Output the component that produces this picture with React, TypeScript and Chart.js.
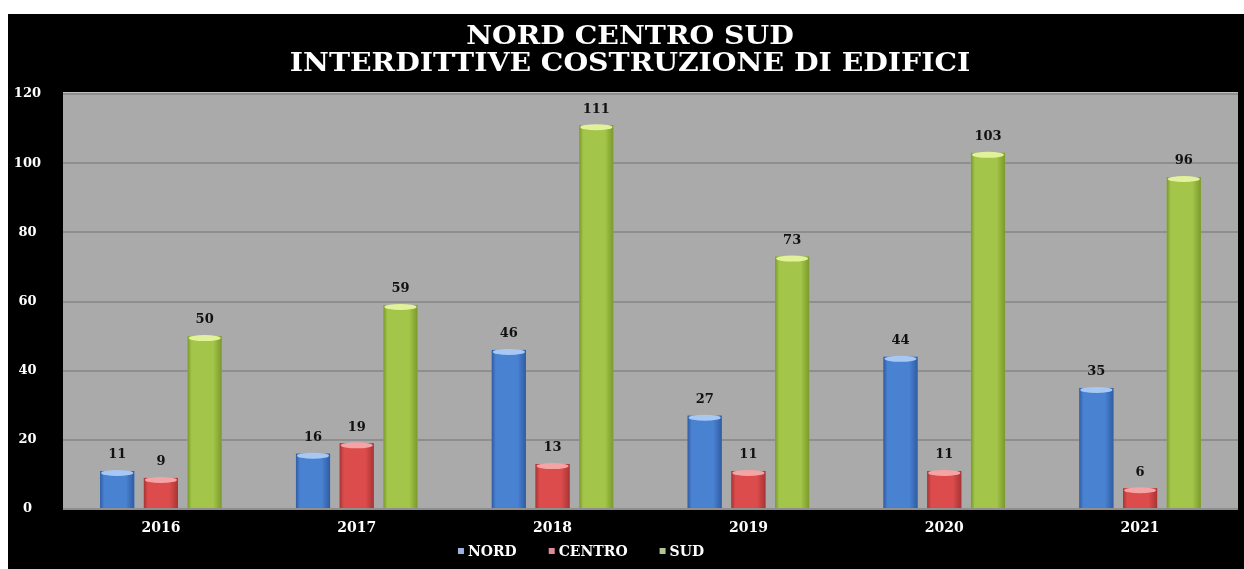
import React, { useEffect, useRef } from 'react';
import { Chart, registerables } from 'chart.js';

Chart.register(...registerables);

// ---- data ----
const categories = ['2016', '2017', '2018', '2019', '2020', '2021'];
const nordValues = [11, 16, 46, 27, 44, 35];
const centroValues = [9, 19, 13, 11, 11, 6];
const sudValues = [50, 59, 111, 73, 103, 96];
const seriesNames = ['NORD', 'CENTRO', 'SUD'];
const titleLines = ['NORD CENTRO SUD', 'INTERDITTIVE COSTRUZIONE DI EDIFICI'];
const yMin = 0;
const yMax = 120;
const yStep = 20;

// ---- styles ----
const FONT = "'DejaVu Serif', 'Liberation Serif', serif";
const baseColors = ['#4a82d2', '#dc4c4c', '#a3c64a'];
const lightColors = ['#a8c8f4', '#f4a4a4', '#e2f29a'];
const darkColors = ['#2f5ca4', '#a83434', '#7a9a2a'];
const legendColors = ['#9fb0dc', '#e08a98', '#b4c490'];

const plotBgPlugin = {
  id: 'plotBg',
  beforeDraw(chart: any) {
    const { ctx, chartArea } = chart;
    ctx.save();
    ctx.fillStyle = '#aaaaaa';
    ctx.fillRect(chartArea.left, chartArea.top, chartArea.right - chartArea.left, chartArea.bottom - chartArea.top);
    ctx.fillStyle = '#bdbdbd';
    ctx.fillRect(chartArea.left, chartArea.top - 2, chartArea.right - chartArea.left, 2);
    ctx.restore();
  },
};

const cylinderPlugin = {
  id: 'cylinder',
  afterDatasetsDraw(chart: any) {
    const { ctx } = chart;
    chart.data.datasets.forEach((ds: any, di: number) => {
      const meta = chart.getDatasetMeta(di);
      meta.data.forEach((el: any, i: number) => {
        const { x, y, base, width } = el.getProps(['x', 'y', 'base', 'width'], true);
        const left = x - width / 2;
        ctx.save();
        const g = ctx.createLinearGradient(left, 0, left + width, 0);
        g.addColorStop(0, darkColors[di]);
        g.addColorStop(0.12, baseColors[di]);
        g.addColorStop(0.4, baseColors[di]);
        g.addColorStop(0.75, baseColors[di]);
        g.addColorStop(1, darkColors[di]);
        ctx.fillStyle = g;
        ctx.fillRect(left, y, width, base - y);
        ctx.beginPath();
        ctx.ellipse(x, y + 2, width / 2 - 1, 3, 0, 0, Math.PI * 2);
        ctx.fillStyle = lightColors[di];
        ctx.fill();
        ctx.font = `bold 13px ${FONT}`;
        ctx.fillStyle = '#111111';
        ctx.textAlign = 'center';
        ctx.textBaseline = 'middle';
        ctx.fillText(String(ds.data[i]), x, y - 16);
        ctx.restore();
      });
    });
  },
};

const titlePlugin = {
  id: 'customTitle',
  afterDraw(chart: any) {
    const { ctx } = chart;
    ctx.save();
    ctx.font = `bold 26px ${FONT}`;
    ctx.fillStyle = '#ffffff';
    ctx.textAlign = 'center';
    ctx.textBaseline = 'middle';
    const cx = 622;
    const ys = [23, 50];
    titleLines.forEach((line, i) => {
      ctx.save();
      ctx.translate(cx, ys[i]);
      ctx.scale(1.09, 1);
      ctx.fillText(line, 0, 0);
      ctx.restore();
    });
    ctx.restore();
  },
};

const customLegendPlugin = {
  id: 'customLegend',
  afterDraw(chart: any) {
    const { ctx } = chart;
    ctx.save();
    ctx.font = `bold 14px ${FONT}`;
    ctx.textBaseline = 'middle';
    ctx.textAlign = 'left';
    const box = 6;
    const gapBoxText = 4;
    const gapItems = 32;
    const widths = chart.data.datasets.map((d: any) => ctx.measureText(d.label).width);
    const total = widths.reduce((a: number, w: number) => a + box + gapBoxText + w, 0) + gapItems * (widths.length - 1);
    const cx = 573;
    const cy = 537;
    let xPos = cx - total / 2;
    chart.data.datasets.forEach((d: any, i: number) => {
      ctx.fillStyle = legendColors[i];
      ctx.fillRect(xPos, cy - box / 2, box, box);
      xPos += box + gapBoxText;
      ctx.fillStyle = '#ffffff';
      ctx.fillText(d.label, xPos, cy + 1);
      xPos += widths[i] + gapItems;
    });
    ctx.restore();
  },
};

export default function App() {
  const canvasRef = useRef<HTMLCanvasElement | null>(null);

  useEffect(() => {
    if (!canvasRef.current) return;
    const seriesValues = [nordValues, centroValues, sudValues];
    const chart = new Chart(canvasRef.current, {
      type: 'bar',
      data: {
        labels: categories,
        datasets: seriesNames.map((name, i) => ({
          label: name,
          data: seriesValues[i],
          backgroundColor: baseColors[i],
          borderWidth: 0,
          categoryPercentage: 0.67,
          barPercentage: 0.78,
        })),
      },
      options: {
        animation: false,
        responsive: false,
        devicePixelRatio: 1,
        layout: { padding: { left: 0, right: 6, top: 80, bottom: 25 } },
        plugins: {
          legend: { display: false },
          tooltip: { enabled: false },
          title: { display: false },
        },
        scales: {
          x: {
            grid: { display: false },
            border: { display: false },
            ticks: {
              color: '#ffffff',
              font: { family: FONT, size: 14, weight: 'bold' },
              padding: 3,
            },
            afterFit(scale: any) {
              scale.height = 35;
            },
          },
          y: {
            min: yMin,
            max: yMax,
            border: { display: false },
            grid: { color: '#8e8e8e', lineWidth: 2, drawTicks: false },
            ticks: {
              stepSize: yStep,
              color: '#ffffff',
              font: { family: FONT, size: 13, weight: 'bold' },
              crossAlign: 'center',
              padding: 22,
            },
            afterFit(scale: any) {
              scale.width = 55;
            },
          },
        },
      },
      plugins: [plotBgPlugin, cylinderPlugin, titlePlugin, customLegendPlugin],
    } as any);
    return () => chart.destroy();
  }, []);

  return (
    <div style={{ position: 'absolute', left: 0, top: 0, width: 1244, height: 569, background: '#ffffff' }}>
      <div style={{ position: 'absolute', left: 8, top: 14, width: 1236, height: 555, background: '#000000' }}>
        <canvas ref={canvasRef} width={1236} height={555} style={{ display: 'block' }} />
      </div>
    </div>
  );
}
